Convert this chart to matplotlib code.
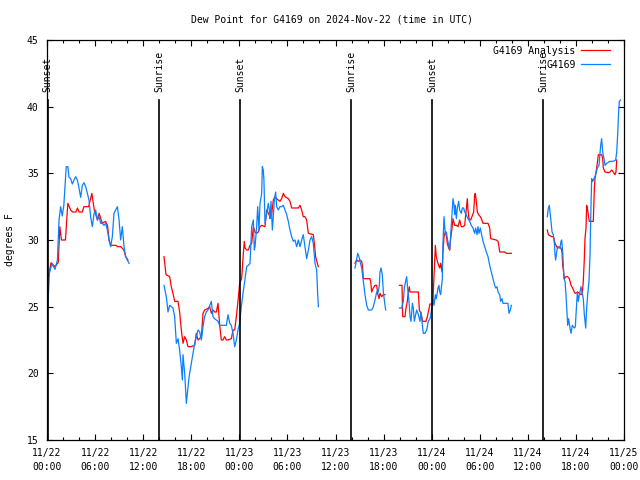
import numpy as np
import matplotlib
matplotlib.use("Agg")
import matplotlib.pyplot as plt
from matplotlib.ticker import MultipleLocator

nan = np.nan

# hours since 2024-11-22 00:00 UTC, nan marks a data gap
stn_hours = [0.1, 0.3, 0.6, 1.0, 1.3, 1.5, 1.7, 1.9, 2.1, 2.4, 2.6, 2.75, 2.95, 3.16, 3.37, 3.58, 3.79, 3.99,
             4.2, 4.41, 4.62, 4.83, 5.03, 5.24, 5.45, 5.66, 5.87, 6.07, 6.28, 6.49, 6.7, 6.9, 7.11, 7.32, 7.53,
             7.74, 7.94, 8.15, 8.36, 8.57, 8.78, 8.99, 9.19, 9.4, 9.61, 9.82, 10.03, 10.23,
             12.0,
             14.6, 14.89, 15.1, 15.31, 15.51, 15.72, 15.93, 16.14, 16.35, 16.55, 16.76, 16.89, 16.97, 17.18, 17.39,
             17.51, 17.68, 17.8, 18.01, 18.22, 18.43, 18.63, 18.84, 19.05, 19.26, 19.47, 19.67, 19.88, 20.09,
             20.51, 20.71, 20.92, 21.13, 21.34, 21.55, 21.96, 22.38, 22.59, 22.8, 23.0, 23.21, 23.42, 23.63,
             23.83, 24.04, 24.25, 24.46, 24.92, 25.12, 25.33, 25.54, 25.75, 25.87, 25.96, 26.16, 26.29, 26.45,
             26.58, 26.79, 26.87, 26.99, 27.07, 27.2, 27.41, 27.62, 27.74, 27.83, 27.95, 28.12, 28.24, 28.37,
             28.53, 28.66, 28.87, 29.07, 29.28, 29.49, 29.7, 29.91, 30.11, 30.32, 30.53, 30.74, 30.95, 31.15,
             31.36, 31.57, 31.78, 31.98, 32.19, 32.4, 32.61, 32.82, 33.02, 33.23, 33.44, 33.65, 33.77, 33.86,
             36.0,
             38.43, 38.64, 38.77, 38.93, 39.06, 39.27, 39.47, 39.68, 39.89, 40.1, 40.51, 40.72, 40.93, 41.14,
             41.34, 41.47, 41.55, 41.68, 41.84, 41.97, 42.09, 42.26,
             43.0,
             43.97, 44.26, 44.46, 44.59, 44.75, 44.88, 45.0, 45.17, 45.3, 45.42, 45.59, 45.71, 45.84, 46.0,
             46.13, 46.34, 46.54, 46.67, 46.84, 46.96, 47.17, 47.38, 47.58, 47.79, 48.04, 48.17, 48.29, 48.46,
             48.58, 48.79, 48.91, 49.0, 49.12, 49.21, 49.33, 49.41, 49.54, 49.62, 49.71, 49.83, 49.95, 50.12,
             50.25, 50.37, 50.54, 50.66, 50.79, 50.87, 50.95, 51.08, 51.2, 51.37, 51.49, 51.7, 51.83, 51.99,
             52.12, 52.33, 52.53, 52.74, 52.95, 53.16, 53.37, 53.49, 53.66, 53.78, 53.91, 54.07, 54.2, 54.41,
             54.61, 54.82, 55.03, 55.24, 55.44, 55.65, 55.86, 55.99, 56.15, 56.28, 56.49, 56.61, 56.78, 56.9,
             57.11, 57.52, 57.65, 57.82, 57.94,
             60.0,
             62.43, 62.56, 62.68, 62.77, 62.89, 63.02, 63.18, 63.31, 63.39, 63.47, 63.6, 63.72, 63.89, 64.01,
             64.14, 64.22, 64.35, 64.43, 64.51, 64.64, 64.76, 64.85, 64.97, 65.09, 65.26, 65.39, 65.55, 65.68,
             65.8, 65.93, 66.01, 66.18, 66.3, 66.43, 66.51, 66.63, 66.76, 66.92, 67.05, 67.22, 67.34, 67.47,
             67.63, 67.76, 67.88, 67.97, 68.09, 68.26, 68.46, 68.67, 68.88, 69.09, 69.21, 69.34, 69.5, 69.63,
             69.84, 70.25, 70.67, 70.96, 71.09, 71.21, 71.33, 71.42, 71.55]
stn_dewpt = [25.0, 27.5, 28.2, 27.8, 28.5, 31.5, 32.5, 31.8, 32.6, 35.5, 35.5, 34.7, 34.6, 34.2, 34.5, 34.75, 34.5, 33.9,
             33.2, 34.1, 34.3, 34.0, 33.5, 33.0, 31.7, 31.0, 32.0, 32.25, 31.5, 31.75, 31.25, 31.25, 31.1, 31.25, 30.75,
             30.0, 29.5, 30.25, 32.0, 32.25, 32.5, 31.5, 30.0, 31.0, 29.5, 28.75, 28.5, 28.25,
             nan,
             26.6, 25.75, 24.6, 25.1, 25.0, 24.9, 24.25, 22.25, 22.6, 21.75, 20.5, 19.5, 21.4, 20.0, 17.75,
             18.5, 19.5, 20.0, 20.75, 21.5, 22.25, 22.75, 23.25, 23.1, 22.5, 23.5, 24.25, 24.6, 24.75,
             25.4, 24.25, 24.1, 24.0, 23.9, 23.6, 23.6, 23.6, 24.4, 23.75, 23.6, 23.0, 22.0, 22.5,
             23.25, 23.75, 25.0, 26.0, 28.0, 28.1, 28.25, 31.0, 31.5, 29.25, 29.5, 31.0, 32.5, 30.75,
             32.75, 33.5, 35.5, 35.25, 34.5, 31.25, 32.0, 32.75, 32.25, 31.6, 32.9, 30.75, 31.75, 33.0,
             33.6, 32.5, 32.25, 32.5, 32.5, 32.6, 32.25, 31.9, 31.4, 30.75, 30.25, 29.9, 30.0, 29.5,
             30.0, 29.5, 30.0, 30.4, 29.5, 28.6, 29.25, 30.0, 30.25, 29.75, 28.25, 27.75, 26.0, 25.0,
             nan,
             27.9, 28.6, 29.0, 28.75, 28.4, 27.9, 26.9, 25.9, 25.1, 24.75, 24.75, 25.0, 25.5, 26.1,
             26.1, 26.6, 27.6, 27.9, 27.4, 26.1, 25.5, 24.75,
             nan,
             24.9, 24.9, 25.4, 26.4, 26.9, 27.25, 26.4, 25.4, 24.25, 23.9, 25.25, 24.9, 23.9, 24.4,
             24.75, 24.4, 23.9, 24.6, 23.6, 23.0, 23.0, 23.25, 23.9, 24.1, 24.9, 25.6, 25.1, 25.9,
             25.6, 26.4, 26.6, 26.1, 25.9, 26.4, 27.1, 29.75, 31.75, 31.1, 30.4, 30.6, 30.1, 29.6,
             29.25, 30.4, 31.9, 33.1, 32.6, 31.9, 32.6, 31.6, 32.4, 32.9, 32.25, 32.0, 32.4, 32.4,
             32.1, 31.9, 31.6, 31.4, 31.1, 30.9, 30.5, 30.9, 30.4, 31.0, 30.5, 30.9, 30.5, 29.9,
             29.5, 29.1, 28.75, 28.1, 27.6, 27.1, 26.6, 26.4, 26.5, 26.1, 25.9, 25.4, 25.6, 25.25,
             25.25, 25.25, 24.5, 24.75, 25.1,
             nan,
             31.75, 32.4, 32.6, 32.1, 31.4, 30.6, 30.4, 29.75, 28.9, 28.5, 29.1, 29.5, 29.4, 29.4,
             29.9, 30.0, 29.1, 28.1, 27.1, 26.9, 25.9, 24.9, 23.6, 24.1, 23.4, 23.0, 23.6, 23.5,
             23.4, 23.5, 24.4, 26.1, 25.4, 25.9, 26.1, 26.5, 26.1, 25.6, 24.4, 23.4, 24.9, 25.9,
             26.9, 28.9, 32.6, 34.6, 34.4, 34.6, 34.9, 35.4, 35.6, 37.1, 37.6, 36.6, 36.1, 35.6,
             35.75, 35.9, 35.9, 36.0, 36.6, 37.9, 39.6, 40.4, 40.5]

ana_hours = [0.2, 0.5, 1.0, 1.4, 1.6, 1.8, 2.3, 2.6, 2.95, 3.2, 3.6, 3.8, 4.0, 4.4, 4.6, 5.2, 5.6, 5.9, 6.3, 6.5,
             6.9, 7.3, 7.55, 7.75, 7.95, 8.6, 8.8, 9.2, 9.6, 9.82, 10.1,
             12.0,
             14.6, 14.85, 15.31, 15.51, 15.72, 15.93, 16.35, 16.55, 16.76, 16.97, 17.18, 17.39, 17.59, 18.01,
             18.43, 18.63, 18.84, 19.26, 19.47, 19.67, 20.09, 20.3, 20.51, 20.71, 20.92, 21.13, 21.34, 21.55,
             21.75, 21.96, 22.17, 22.38, 22.59, 23.0, 23.21, 23.42, 23.63, 23.83, 24.04, 24.29, 24.5, 24.62,
             24.71, 24.92, 25.12, 25.33, 25.54, 25.75, 25.96, 26.16, 26.37, 26.58, 26.79, 27.2, 27.41, 27.62,
             27.83, 28.03, 28.24, 28.45, 28.66, 28.87, 29.07, 29.28, 29.49, 29.7, 30.11, 30.32, 30.53, 31.36,
             31.57, 31.78, 31.98, 32.19, 32.4, 32.61, 33.23, 33.36, 33.52, 33.73, 33.86,
             36.0,
             38.43, 38.64, 38.85, 39.06, 39.27, 39.39, 39.47, 40.3, 40.39, 40.51, 40.72, 40.93, 41.14, 41.26,
             41.43, 41.55, 41.76, 41.97, 42.18,
             43.0,
             43.97, 44.3, 44.38, 44.67, 44.8, 44.96, 45.09, 45.21, 45.3, 46.34, 46.46, 46.67, 46.88, 47.29,
             47.46, 47.63, 47.79, 48.13, 48.17, 48.37, 48.46, 48.58, 48.71, 48.87, 49.0, 49.12, 49.29, 49.41,
             49.54, 49.71, 49.83, 49.95, 50.12, 50.25, 50.37, 50.54, 50.66, 50.87, 51.08, 51.29, 51.49, 51.7,
             51.91, 52.12, 52.33, 52.45, 52.53, 52.66, 52.87, 53.03, 53.24, 53.37, 53.45, 53.57, 53.7, 53.86,
             54.07, 54.2, 54.32, 54.41, 55.03, 55.24, 55.36, 56.07, 56.28, 56.4, 56.49, 57.11, 57.32, 57.94,
             60.0,
             62.43, 62.56, 62.97, 63.18, 63.31, 63.39, 63.6, 63.72, 63.89, 64.01, 64.14, 64.26, 64.35, 64.43,
             64.55, 64.76, 64.97, 65.18, 65.39, 65.59, 65.8, 65.93, 66.22, 66.43, 66.63, 66.8, 66.92, 67.05,
             67.13, 67.26, 67.34, 67.47, 67.55, 67.67, 68.17, 68.3, 68.38, 68.59, 68.8, 69.21, 69.34, 69.42,
             69.63, 70.04, 70.25, 70.46, 70.67, 70.88, 71.0, 71.09]
ana_dewpt = [27.3, 28.3, 28.0, 28.3, 31.0, 30.0, 30.0, 32.75, 32.25, 32.1, 32.1, 32.4, 32.1, 32.1, 32.5, 32.5, 33.5,
             32.25, 31.5, 32.0, 31.25, 31.4, 31.1, 30.0, 29.6, 29.6, 29.5, 29.5, 29.25, 28.75, 28.5,
             nan,
             28.75, 27.4, 27.25, 26.5, 26.0, 25.4, 25.4, 24.6, 23.25, 22.25, 22.75, 22.5, 22.0, 22.0,
             22.1, 23.0, 22.5, 22.75, 24.5, 24.75, 24.87, 25.0, 24.5, 24.75, 24.6, 24.6, 25.25, 23.6,
             22.5, 22.5, 22.75, 22.5, 22.5, 22.6, 23.25, 23.25, 24.25, 25.4, 26.75, 27.1, 29.0, 29.9,
             29.4, 29.25, 29.25, 29.6, 29.75, 31.0, 30.6, 30.5, 30.6, 31.0, 31.1, 31.0, 32.25, 32.0,
             31.75, 31.9, 33.0, 33.25, 33.1, 33.0, 32.9, 33.1, 33.5, 33.25, 33.1, 32.9, 32.4, 32.4,
             32.6, 32.25, 31.75, 31.75, 31.5, 30.5, 30.4, 29.75, 28.75, 28.25, 28.0,
             nan,
             28.25, 28.5, 28.4, 28.5, 28.4, 27.9, 27.1, 27.1, 26.9, 26.1, 26.4, 26.6, 26.6, 26.0,
             25.6, 26.0, 25.75, 25.9, 25.9,
             nan,
             26.6, 26.6, 24.25, 24.25, 24.9, 25.4, 26.1, 26.5, 26.1, 26.1, 24.75, 24.5, 23.9, 23.9,
             24.25, 24.75, 25.2, 25.2, 25.6, 28.4, 29.6, 28.75, 28.4, 28.1, 27.9, 28.25, 27.6, 29.1,
             30.25, 30.6, 30.4, 29.75, 29.4, 29.25, 30.1, 30.9, 31.6, 31.1, 31.1, 31.0, 31.5, 31.0,
             31.0, 31.1, 32.4, 33.1, 32.25, 31.6, 31.5, 31.75, 32.1, 33.4, 33.5, 32.9, 32.1, 31.9,
             31.75, 31.6, 31.4, 31.25, 31.25, 30.9, 30.1, 30.0, 29.9, 29.5, 29.1, 29.1, 29.0, 29.0,
             nan,
             30.75, 30.4, 30.25, 30.25, 30.0, 29.75, 29.5, 29.4, 29.5, 29.4, 29.4, 29.1, 28.1, 27.75,
             27.1, 27.25, 27.25, 27.1, 26.6, 26.4, 26.1, 26.0, 26.1, 26.0, 25.9, 26.0, 26.9, 28.6,
             30.1, 30.9, 32.6, 32.25, 31.9, 31.4, 31.4, 33.9, 34.6, 35.4, 36.4, 36.4, 36.1, 35.4,
             35.1, 35.05, 35.1, 35.25, 35.1, 34.9, 35.1, 36.0]

sunset_hours = [0.1, 24.1, 48.1]
sunrise_hours = [14.0, 37.95, 61.9]
tick_hours = list(range(0, 73, 6))
tick_labels = ["11/22\n00:00", "11/22\n06:00", "11/22\n12:00", "11/22\n18:00",
               "11/23\n00:00", "11/23\n06:00", "11/23\n12:00", "11/23\n18:00",
               "11/24\n00:00", "11/24\n06:00", "11/24\n12:00", "11/24\n18:00", "11/25\n00:00"]

plt.rcParams['font.family'] = ['DejaVu Sans Mono']
fs = 7

fig = plt.figure(figsize=(6.4, 4.8), dpi=100)
ax = fig.add_axes([47 / 640, 40 / 480, 577 / 640, 400 / 480])

ax.plot(ana_hours, ana_dewpt, color='#ff0000', lw=0.9, label='G4169 Analysis')
ax.plot(stn_hours, stn_dewpt, color='#0a80ff', lw=0.9, label='G4169')

for h in sunset_hours + sunrise_hours:
    ax.plot([h, h], [15, 40.5], color='black', lw=1.2)
for h in sunset_hours:
    ax.text(h, 41.1, 'Sunset', rotation=90, ha='center', va='bottom', fontsize=fs)
for h in sunrise_hours:
    ax.text(h, 41.1, 'Sunrise', rotation=90, ha='center', va='bottom', fontsize=fs)

ax.set_xlim(0, 72)
ax.set_ylim(15, 45)
ax.set_xticks(tick_hours)
ax.set_xticklabels(tick_labels, linespacing=1.5)
ax.xaxis.set_minor_locator(MultipleLocator(2))
ax.set_yticks(range(15, 46, 5))
ax.tick_params(which='both', direction='in', top=True, right=True, labelsize=fs)
ax.tick_params(which='major', length=4.5, width=0.8)
ax.tick_params(which='minor', length=2.5, width=0.8)
ax.tick_params(axis='x', pad=6)
ax.tick_params(axis='y', pad=6)
for s in ax.spines.values():
    s.set_linewidth(0.9)

leg = ax.legend(loc='upper right', markerfirst=False, frameon=False, fontsize=fs,
                handlelength=2.9, handletextpad=0.6, labelspacing=0.4,
                borderaxespad=0.2, bbox_to_anchor=(0.985, 1.0))

fig.text(332 / 640, 1 - 19 / 480, 'Dew Point for G4169 on 2024-Nov-22 (time in UTC)',
         ha='center', va='center', fontsize=fs)
fig.text(10 / 640, 0.5, 'degrees F', rotation=90, ha='center', va='center', fontsize=fs)

fig.savefig('out.png', dpi=100)
